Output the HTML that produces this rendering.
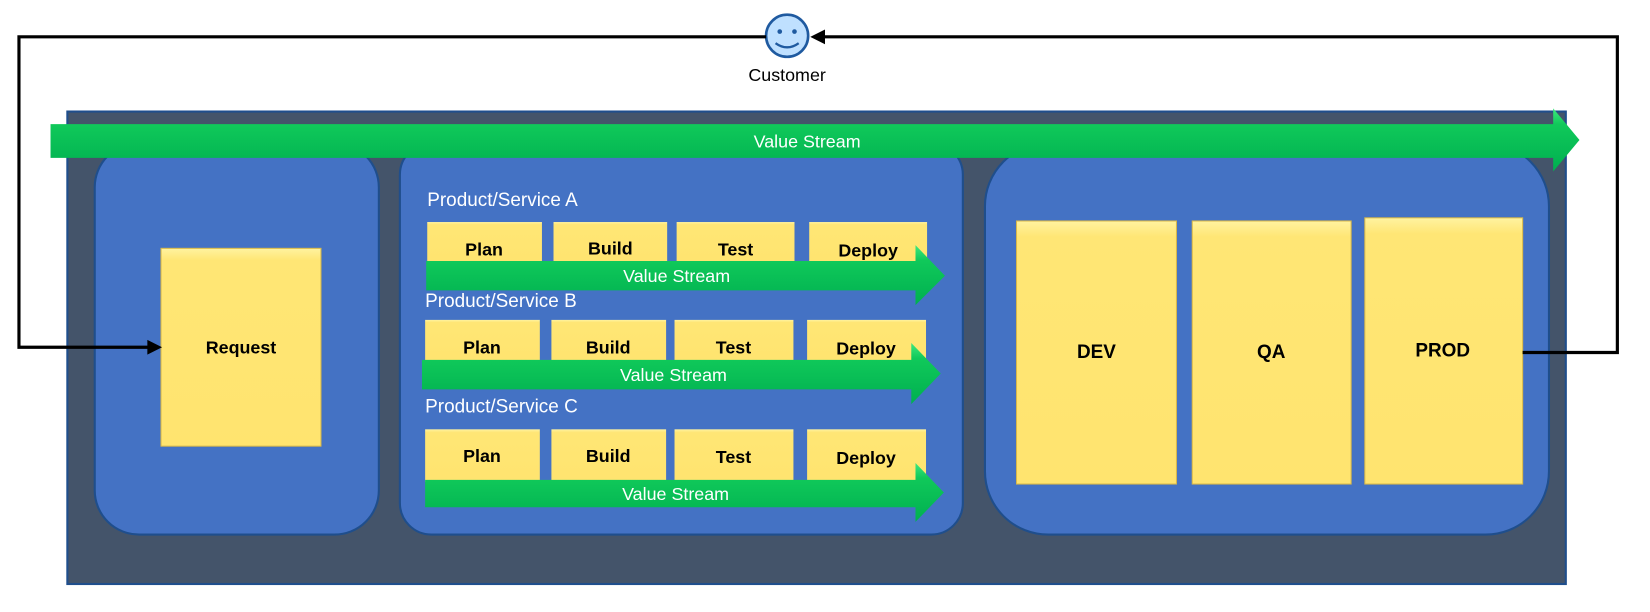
<!DOCTYPE html>
<html><head><meta charset="utf-8"><style>
html,body{margin:0;padding:0;background:#fff;}
svg{display:block;}
text{font-family:"Liberation Sans",sans-serif;}
</style></head><body>
<svg width="1650" height="612" viewBox="0 0 1568 581.6" xmlns="http://www.w3.org/2000/svg">
<defs>
<linearGradient id="g" x1="0" y1="0" x2="0" y2="1">
<stop offset="0" stop-color="#3ee87e"/><stop offset="0.25" stop-color="#10c95a"/><stop offset="1" stop-color="#00b050"/>
</linearGradient>
<linearGradient id="y" x1="0" y1="0" x2="0" y2="1">
<stop offset="0" stop-color="#fff3a0"/><stop offset="0.06" stop-color="#ffe675"/><stop offset="1" stop-color="#ffe46f"/>
</linearGradient>
</defs>
<!-- customer -->
<circle cx="748" cy="34" r="20" fill="#bfe0ff" stroke="#1f5aa0" stroke-width="2.5"/>
<circle cx="741" cy="30" r="2.2" fill="#1f5aa0"/><circle cx="755" cy="30" r="2.2" fill="#1f5aa0"/>
<path d="M737,41 Q748,49 759,41" fill="none" stroke="#1f5aa0" stroke-width="2.2"/>
<text x="748" y="77" font-size="17" text-anchor="middle" fill="#000">Customer</text>
<!-- outer box -->
<rect x="64" y="106" width="1424" height="449" fill="#44546a" stroke="#1f4e8c" stroke-width="2"/>
<!-- panels -->
<rect x="90" y="136" width="270" height="372" rx="42" fill="#4472c4" stroke="#1f4e8c" stroke-width="2"/>
<rect x="380" y="136" width="535" height="372" rx="30" fill="#4472c4" stroke="#1f4e8c" stroke-width="2"/>
<rect x="936" y="136" width="536" height="372" rx="60" fill="#4472c4" stroke="#1f4e8c" stroke-width="2"/>
<!-- big arrow -->
<polygon points="48,118 1476,118 1476,103 1501,133 1476,163 1476,150 48,150" fill="url(#g)"/>
<text x="767" y="140" font-size="17" text-anchor="middle" fill="#fff">Value Stream</text>
<!-- request -->
<rect x="153" y="236" width="152" height="188" fill="url(#y)" stroke="#d8b84a" stroke-width="1"/>
<text x="229" y="336" font-size="17" font-weight="bold" text-anchor="middle" fill="#000">Request</text>
<!-- env boxes -->
<rect x="966" y="210" width="152" height="250" fill="url(#y)" stroke="#d8b84a"/>
<rect x="1133" y="210" width="151" height="250" fill="url(#y)" stroke="#d8b84a"/>
<rect x="1297" y="207" width="150" height="253" fill="url(#y)" stroke="#d8b84a"/>
<text x="1042" y="340" font-size="18" font-weight="bold" text-anchor="middle">DEV</text>
<text x="1208" y="340" font-size="18" font-weight="bold" text-anchor="middle">QA</text>
<text x="1371" y="339" font-size="18" font-weight="bold" text-anchor="middle">PROD</text>
<!-- row A -->
<text x="406" y="196" font-size="18" fill="#fff">Product/Service A</text>
<g font-size="17" font-weight="bold" text-anchor="middle">
<rect x="406" y="211" width="109" height="40" fill="url(#y)"/><text x="460" y="243">Plan</text>
<rect x="526" y="211" width="108" height="40" fill="url(#y)"/><text x="580" y="242">Build</text>
<rect x="643" y="211" width="112" height="40" fill="url(#y)"/><text x="699" y="243">Test</text>
<rect x="769" y="211" width="112" height="40" fill="url(#y)"/><text x="825" y="244">Deploy</text>
</g>
<text x="404" y="292" font-size="18" fill="#fff">Product/Service B</text>
<polygon points="405,248 870,248 870,233 898,262 870,290 870,276 405,276" fill="url(#g)"/>
<text x="643" y="268" font-size="17" text-anchor="middle" fill="#fff">Value Stream</text>
<!-- row B -->
<g font-size="17" font-weight="bold" text-anchor="middle">
<rect x="404" y="304" width="109" height="40" fill="url(#y)"/><text x="458" y="336">Plan</text>
<rect x="524" y="304" width="109" height="40" fill="url(#y)"/><text x="578" y="336">Build</text>
<rect x="641" y="304" width="113" height="40" fill="url(#y)"/><text x="697" y="336">Test</text>
<rect x="767" y="304" width="113" height="40" fill="url(#y)"/><text x="823" y="337">Deploy</text>
</g>
<polygon points="401,342 866,342 866,326 894,355 866,384 866,370 401,370" fill="url(#g)"/>
<text x="640" y="362" font-size="17" text-anchor="middle" fill="#fff">Value Stream</text>
<!-- row C -->
<text x="404" y="392" font-size="18" fill="#fff">Product/Service C</text>
<g font-size="17" font-weight="bold" text-anchor="middle">
<rect x="404" y="408" width="109" height="50" fill="url(#y)"/><text x="458" y="439">Plan</text>
<rect x="524" y="408" width="109" height="50" fill="url(#y)"/><text x="578" y="439">Build</text>
<rect x="641" y="408" width="113" height="50" fill="url(#y)"/><text x="697" y="440">Test</text>
<rect x="767" y="408" width="113" height="50" fill="url(#y)"/><text x="823" y="441">Deploy</text>
</g>
<polygon points="404,456 870,456 870,440 897,468 870,496 870,482 404,482" fill="url(#g)"/>
<text x="642" y="475" font-size="17" text-anchor="middle" fill="#fff">Value Stream</text>
<!-- loop lines (on top) -->
<polyline points="728,35 18,35 18,330 146,330" fill="none" stroke="#000" stroke-width="3"/>
<polygon points="154,330 140,323 140,337" fill="#000"/>
<polyline points="1447,335 1537,335 1537,35 780,35" fill="none" stroke="#000" stroke-width="3"/>
<polygon points="770,35 784,28 784,42" fill="#000"/>
</svg>
</body></html>
